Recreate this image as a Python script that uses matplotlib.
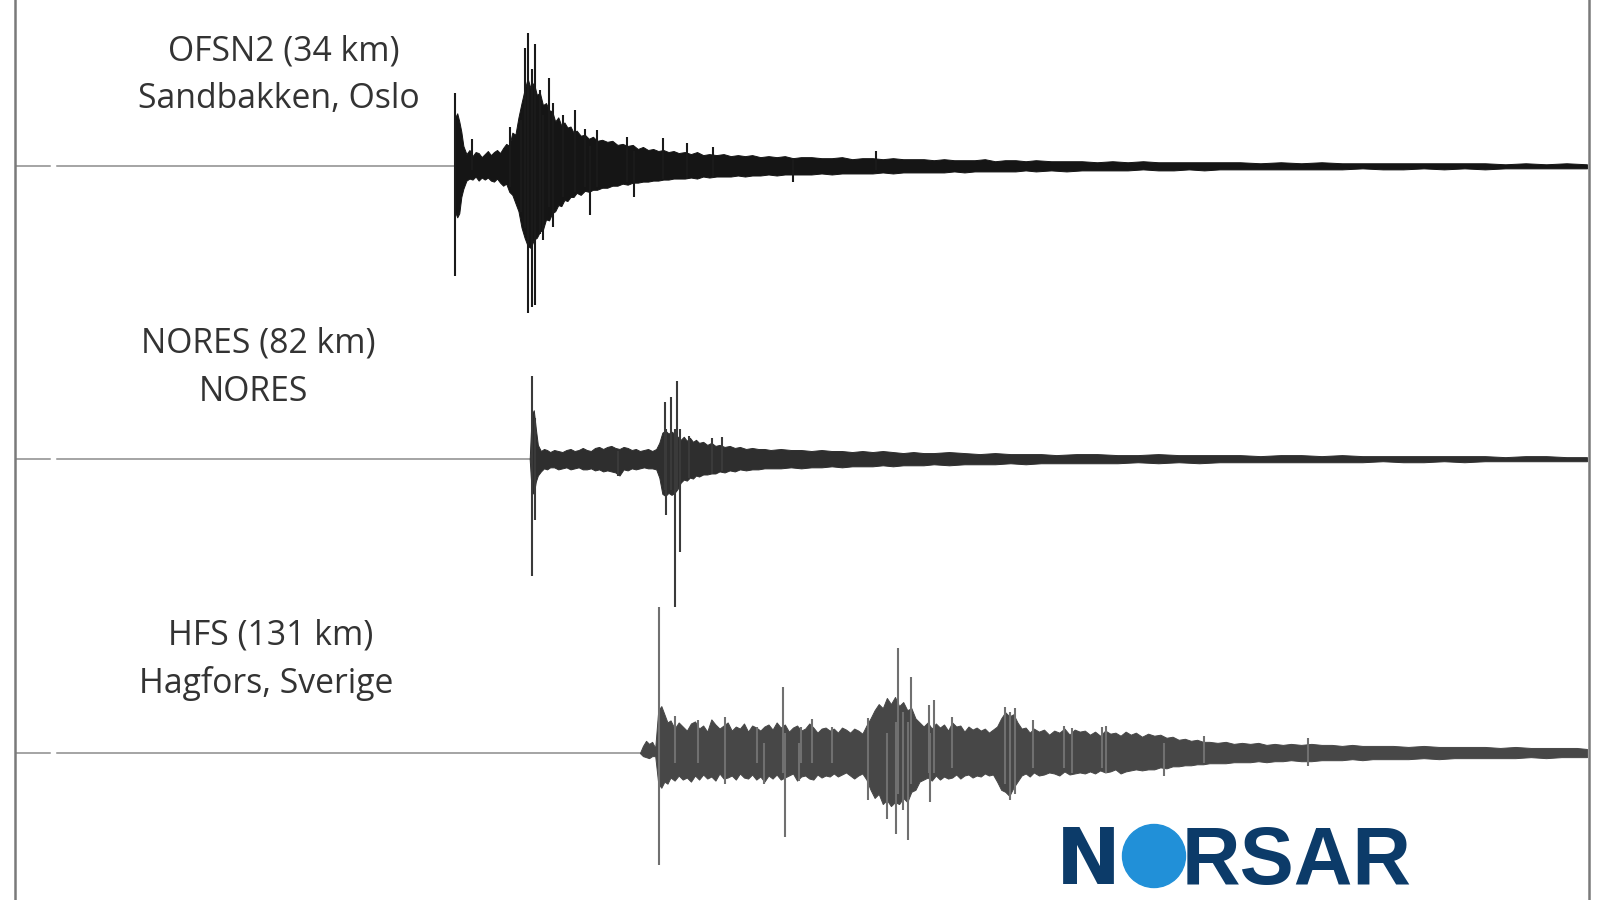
import matplotlib
matplotlib.use("Agg")
import matplotlib.pyplot as plt
from matplotlib.patches import Circle

# ---------------- data ----------------
stations = ["OFSN2", "NORES", "HFS"]
distances_km = [34, 82, 131]
locations = ["Sandbakken, Oslo", "NORES", "Hagfors, Sverige"]
onset_s = [43.0, 50.4, 61.2]          # first motion on each trace (s)
data_gap_s = (3.4, 4.1)               # short gap in the pre-event record

# OFSN2 envelope: time (s), upward / downward excursion (relative units)
t1_env_t = [43.0, 43.1, 43.3, 43.5, 43.7, 43.9, 44.2, 44.5, 44.8, 45.1, 45.4, 45.7,
            46.0, 46.3, 46.6, 46.9, 47.2, 47.5, 47.8, 48.1, 48.4, 48.7, 49.0, 49.3,
            49.6, 49.9, 50.2, 50.5, 50.8, 51.1, 51.4, 51.7, 52.0, 52.3, 52.6, 52.9,
            53.2, 53.5, 53.8, 54.1, 54.4, 54.7, 55.0, 55.4, 55.8, 56.2, 56.6, 57.0,
            57.5, 58.0, 58.5, 59.0, 59.5, 60.0, 60.5, 61.0, 61.5, 62.0, 62.5, 63.0,
            63.5, 64.0, 64.5, 65.0, 65.6, 66.2, 66.8, 67.4, 68.0, 68.7, 69.4, 70.1,
            70.8, 71.5, 72.2, 73.0, 73.8, 74.6, 75.4, 76.2, 77.0, 78.0, 79.0, 80.0,
            81.0, 82.0, 83.0, 84.0, 85.0, 86.0, 87.0, 88.0, 89.0, 90.0, 91.0, 92.0,
            93.0, 94.0, 95.0, 96.0, 97.0, 98.0, 99.0, 100.0, 101.5, 103.0, 104.5, 106.0,
            107.5, 109.0, 110.5, 112.0, 113.5, 115.0, 116.5, 118.0, 120.0, 122.0, 124.0,
            126.0, 128.0, 130.0, 132.0, 134.0, 136.0, 138.0, 140.0, 142.0, 144.0, 146.0,
            148.0, 150.0, 152.0, 154.0]
t1_env_up = [0, 48, 52, 44, 34, 20, 12, 16, 10, 14, 13, 9,
             12, 15, 11, 14, 16, 13, 18, 22, 20, 33, 31, 48,
             62, 75, 86, 76, 82, 70, 72, 60, 62, 55, 54, 44,
             48, 40, 43, 38, 39, 33, 35, 30, 31, 27, 29, 25,
             26, 24, 25, 21, 22, 20, 21, 17, 19, 16, 17, 15,
             16, 14, 15, 13, 14, 12, 14, 11, 12, 11, 12, 10,
             11, 10, 11, 9, 10, 9, 10, 8, 9, 9, 8, 8,
             9, 7, 8, 8, 7, 8, 7, 7, 7, 6, 7, 6,
             6, 6, 7, 5, 6, 6, 5, 6, 5, 5, 5, 4,
             5, 4, 5, 4, 4, 4, 4, 4, 4, 3, 4,
             3, 4, 3, 3, 3, 3, 3, 3, 3, 3, 2,
             3, 2, 3, 2]
t1_env_dn = [0, 45, 50, 46, 30, 22, 14, 12, 13, 10, 14, 11,
             13, 11, 14, 15, 12, 16, 19, 17, 25, 28, 36, 44,
             60, 70, 78, 80, 72, 70, 64, 62, 52, 53, 46, 44,
             38, 39, 33, 34, 30, 30, 26, 28, 24, 25, 23, 23,
             21, 21, 19, 19, 17, 18, 16, 16, 15, 15, 14, 14,
             13, 13, 12, 12, 12, 11, 12, 10, 11, 10, 10, 10,
             9, 10, 9, 9, 8, 9, 8, 8, 8, 8, 7, 8,
             7, 7, 7, 7, 6, 7, 6, 6, 6, 6, 6, 5,
             6, 5, 5, 5, 5, 5, 4, 5, 4, 5, 4, 4,
             4, 4, 3, 4, 4, 3, 4, 3, 3, 3, 3,
             3, 3, 3, 2, 3, 3, 2, 3, 2, 3, 2,
             2, 2, 2, 2]
t1_spk_t = [43.1, 44.7, 48.5, 49.5, 49.9, 50.2, 50.6, 50.9, 51.4, 51.7, 52.3, 52.7,
            53.7, 54.8, 55.8, 56.3, 57.0, 59.9, 60.6, 63.5, 65.8, 68.4, 76.2, 84.3]
t1_spk_up = [72, 27, 39, 45, 116, 131, 95, 120, 75, 50, 87, 62,
             50, 55, 37, 20, 36, 29, 15, 28, 23, 19, 8, 15]
t1_spk_dn = [107, 4, 20, 45, 60, 144, 138, 136, 66, 72, 40, 59,
             30, 25, 20, 48, 20, 15, 30, 12, 12, 10, 15, 4]

# NORES
t2_env_t = [50.4, 50.6, 50.8, 51.0, 51.2, 51.5, 51.8, 52.1, 52.4, 52.8, 53.2, 53.6,
            54.0, 54.4, 54.8, 55.2, 55.6, 56.0, 56.4, 56.8, 57.2, 57.6, 58.0, 58.4,
            58.8, 59.2, 59.6, 60.0, 60.4, 60.8, 61.2, 61.6, 62.0, 62.4, 62.8, 63.1,
            63.4, 63.7, 64.0, 64.3, 64.6, 64.9, 65.2, 65.5, 65.8, 66.1, 66.4, 66.7,
            67.0, 67.4, 67.8, 68.2, 68.6, 69.0, 69.5, 70.0, 70.5, 71.0, 71.6, 72.2,
            72.8, 73.4, 74.0, 75.0, 76.0, 77.0, 78.0, 79.0, 80.0, 81.0, 82.0, 83.0,
            84.0, 85.0, 86.0, 87.0, 88.0, 89.0, 90.0, 91.5, 93.0, 94.5, 96.0, 97.5,
            99.0, 100.5, 102.0, 104.0, 106.0, 108.0, 110.0, 112.0, 114.0, 116.0, 118.0,
            120.0, 122.0, 124.0, 126.0, 128.0, 130.0, 132.0, 134.0, 136.0, 138.0, 140.0,
            142.0, 144.0, 146.0, 148.0, 150.0, 152.0, 154.0]
t2_env_up = [0, 44, 48, 30, 14, 8, 10, 9, 7, 9, 8, 7,
             9, 10, 8, 9, 11, 9, 8, 11, 12, 10, 12, 13,
             11, 10, 12, 11, 9, 10, 8, 9, 10, 8, 10, 16,
             26, 28, 25, 27, 25, 22, 19, 22, 18, 21, 17, 19,
             16, 17, 14, 16, 13, 14, 12, 13, 11, 12, 10, 11,
             10, 10, 9, 10, 9, 9, 8, 9, 8, 8, 7, 8,
             7, 8, 7, 6, 7, 6, 6, 7, 6, 5, 6, 5,
             5, 5, 4, 5, 5, 4, 4, 5, 4, 4, 4,
             4, 3, 4, 4, 3, 4, 3, 3, 3, 3, 3,
             3, 3, 2, 3, 3, 2, 2]
t2_env_dn = [0, 32, 34, 22, 16, 12, 9, 10, 8, 8, 10, 9,
             8, 10, 9, 8, 10, 10, 9, 11, 10, 12, 11, 12,
             13, 16, 10, 11, 9, 10, 9, 8, 9, 9, 10, 18,
             34, 36, 33, 35, 33, 29, 23, 20, 21, 18, 19, 16,
             17, 15, 15, 14, 14, 12, 13, 11, 12, 10, 11, 10,
             10, 9, 9, 9, 8, 9, 8, 8, 7, 8, 7, 7,
             7, 6, 7, 6, 6, 6, 5, 6, 5, 5, 5, 4,
             5, 4, 4, 4, 4, 4, 3, 4, 3, 4, 3,
             3, 3, 3, 3, 3, 3, 3, 2, 3, 3, 2,
             3, 2, 2, 2, 2, 2, 2]
t2_spk_t = [50.6, 50.9, 59.1, 63.7, 63.8, 64.2, 64.6, 64.8, 65.1, 66.0, 68.3, 69.2]
t2_spk_up = [82, 40, 8, 56, 30, 61, 30, 77, 30, 23, 21, 22]
t2_spk_dn = [114, 60, 16, 30, 55, 30, 145, 30, 91, 18, 15, 12]

# HFS
t3_env_t = [61.2, 61.5, 61.8, 62.1, 62.4, 62.7, 63.0, 63.3, 63.6, 63.9, 64.2, 64.6,
            65.0, 65.4, 65.8, 66.2, 66.6, 67.0, 67.4, 67.8, 68.2, 68.6, 69.0, 69.4,
            69.8, 70.2, 70.6, 71.0, 71.4, 71.8, 72.2, 72.6, 73.0, 73.4, 73.8, 74.2,
            74.6, 75.0, 75.4, 75.8, 76.2, 76.6, 77.0, 77.4, 77.8, 78.2, 78.6, 79.0,
            79.4, 79.8, 80.2, 80.6, 81.0, 81.4, 81.8, 82.2, 82.6, 83.0, 83.4, 83.8,
            84.2, 84.6, 85.0, 85.4, 85.8, 86.2, 86.6, 87.0, 87.4, 87.8, 88.2, 88.6,
            89.0, 89.4, 89.8, 90.2, 90.6, 91.0, 91.4, 91.8, 92.2, 92.6, 93.0, 93.4,
            93.8, 94.2, 94.6, 95.0, 95.4, 95.8, 96.2, 96.6, 97.0, 97.4, 97.8, 98.2,
            98.6, 99.0, 99.4, 99.8, 100.3, 100.8, 101.3, 101.8, 102.3, 102.8, 103.3, 103.8,
            104.3, 104.8, 105.3, 105.8, 106.3, 106.8, 107.3, 107.8, 108.3, 108.8, 109.3, 109.8,
            110.4, 111.0, 111.6, 112.2, 112.8, 113.4, 114.0, 114.6, 115.2, 115.8, 116.4, 117.0,
            117.8, 118.6, 119.4, 120.2, 121.0, 121.8, 122.6, 123.4, 124.2, 125.0, 126.0, 127.0,
            128.0, 129.0, 130.0, 131.0, 132.0, 133.0, 134.0, 135.0, 136.5, 138.0, 139.5, 141.0,
            142.5, 144.0, 145.5, 147.0, 148.5, 150.0, 151.5, 153.0, 154.0]
t3_env_up = [0, 7, 12, 9, 11, 5, 42, 46, 38, 30, 32, 24,
             30, 26, 22, 29, 31, 24, 27, 21, 33, 28, 24, 27,
             30, 22, 26, 24, 29, 21, 27, 25, 22, 26, 28, 23,
             30, 25, 28, 21, 25, 27, 22, 24, 29, 25, 20, 24,
             25, 22, 24, 20, 25, 23, 20, 24, 22, 19, 27, 34,
             42, 48, 44, 54, 48, 55, 46, 50, 42, 44, 34, 30,
             26, 30, 24, 29, 25, 28, 22, 30, 26, 27, 21, 26,
             23, 25, 22, 24, 20, 23, 26, 34, 40, 36, 38, 30,
             24, 25, 20, 24, 21, 23, 18, 22, 20, 24, 18, 23,
             21, 22, 18, 21, 17, 22, 19, 20, 17, 21, 18, 20,
             16, 19, 17, 18, 15, 16, 13, 14, 12, 13, 11, 11,
             10, 11, 9, 10, 9, 10, 8, 9, 8, 9, 8, 9,
             8, 8, 7, 8, 7, 7, 7, 7, 6, 7, 6, 6,
             6, 6, 5, 6, 5, 5, 5, 5, 4]
t3_env_dn = [0, 3, 4, 5, 3, 3, 30, 34, 28, 30, 24, 27,
             22, 26, 24, 28, 22, 26, 21, 25, 23, 27, 20, 25,
             24, 22, 26, 20, 24, 25, 21, 26, 23, 28, 22, 25,
             21, 26, 24, 22, 20, 27, 23, 22, 25, 26, 21, 24,
             22, 23, 20, 23, 21, 19, 22, 25, 22, 20, 26, 36,
             44, 40, 50, 46, 52, 48, 50, 44, 48, 38, 36, 28,
             26, 24, 27, 22, 26, 23, 25, 24, 21, 25, 22, 21,
             24, 22, 23, 20, 22, 21, 28, 36, 38, 42, 34, 28,
             22, 20, 23, 19, 22, 21, 19, 20, 22, 18, 21, 20,
             19, 20, 18, 20, 17, 19, 18, 16, 20, 18, 17, 16,
             17, 16, 16, 14, 15, 13, 13, 12, 12, 11, 11, 10,
             10, 10, 9, 9, 9, 8, 9, 8, 8, 7, 8, 8,
             7, 7, 7, 6, 7, 6, 6, 6, 6, 5, 6, 5,
             5, 5, 5, 5, 4, 5, 4, 4, 4]
t3_spk_t = [63.1, 64.6, 66.9, 69.5, 72.7, 73.4, 75.2, 75.4, 76.8, 77.0, 78.1, 80.0,
            83.6, 85.4, 86.3, 86.5, 87.0, 87.5, 87.8, 89.5, 89.6, 90.0, 91.8, 97.0,
            97.5, 98.0, 99.7, 102.8, 103.5, 106.5, 106.9, 112.6, 116.5, 126.7]
t3_spk_up = [143, 36, 32, 35, 26, 10, 65, 20, 10, 26, 33, 26,
             34, 20, 30, 103, 40, 30, 75, 47, 20, 52, 35, 45,
             40, 44, 32, 27, 25, 26, 27, 10, 17, 15]
t3_spk_dn = [110, 10, 10, 30, 10, 30, 20, 82, 27, 10, 10, 10,
             46, 65, 79, 40, 56, 85, 30, 20, 48, 20, 15, 30,
             46, 40, 15, 15, 20, 15, 20, 22, 10, 13]

traces = [
    (t1_env_t, t1_env_up, t1_env_dn, t1_spk_t, t1_spk_up, t1_spk_dn),
    (t2_env_t, t2_env_up, t2_env_dn, t2_spk_t, t2_spk_up, t2_spk_dn),
    (t3_env_t, t3_env_up, t3_env_dn, t3_spk_t, t3_spk_up, t3_spk_dn),
]

# ---------------- layout / style ----------------
offsets = [0, -287, -575]
fill_colors = ["#151515", "#2e2e2e", "#474747"]
spike_colors = ["#1a1a1a", "#3a3a3a", "#707070"]
label_x = [(26.3, 25.8), (23.8, 23.3), (25.0, 24.6)]
label_dy = [(113, 66), (113, 66), (115, 68)]

fig = plt.figure(figsize=(16, 9), dpi=100)
fig.patch.set_facecolor("white")
ax = fig.add_axes([0.0096, 0.0, 0.9835, 1.0])
ax.set_xlim(0, 154.2)
ax.set_ylim(-719, 163)

for i, (et, eu, ed, st, su, sd) in enumerate(traces):
    b = offsets[i]
    ax.plot([0, data_gap_s[0]], [b, b], color="#8c8c8c", lw=1.1, zorder=1)
    ax.plot([data_gap_s[1], onset_s[i]], [b, b], color="#8c8c8c", lw=1.1, zorder=1)
    upper = [b + u for u in eu]
    lower = [b - d for d in ed]
    ax.fill_between(et, upper, lower, facecolor=fill_colors[i],
                    edgecolor=fill_colors[i], lw=0.7, zorder=2)
    ax.vlines(st, [b - d for d in sd], [b + u for u in su],
              colors=spike_colors[i], lw=1.5, zorder=3)
    line1 = f"{stations[i]} ({distances_km[i]} km)"
    ax.text(label_x[i][0], b + label_dy[i][0], line1, ha="center", va="center",
            fontsize=24.3, family="Open Sans", color="#333333")
    ax.text(label_x[i][1], b + label_dy[i][1], locations[i], ha="center", va="center",
            fontsize=24.3, family="Open Sans", color="#333333")

for side in ("top", "bottom"):
    ax.spines[side].set_visible(False)
for side in ("left", "right"):
    ax.spines[side].set_color("#7a7a7a")
    ax.spines[side].set_linewidth(1.8)
ax.set_xticks([])
ax.set_yticks([])

# NORSAR logo
navy = "#0c3b69"
base_y = 1 - 884 / 900
fig.text(1056 / 1600, base_y, "N", fontsize=56, family="DejaVu Sans",
         weight="bold", color=navy, ha="left", va="baseline")
fig.text(1182 / 1600, base_y, "RSAR", fontsize=58.5, family="Liberation Sans",
         weight="bold", color=navy, ha="left", va="baseline")
fig.add_artist(Circle((11.54, 0.44), 0.315, transform=fig.dpi_scale_trans,
                      color="#2190d8", zorder=5))

fig.savefig("out.png", dpi=100)
